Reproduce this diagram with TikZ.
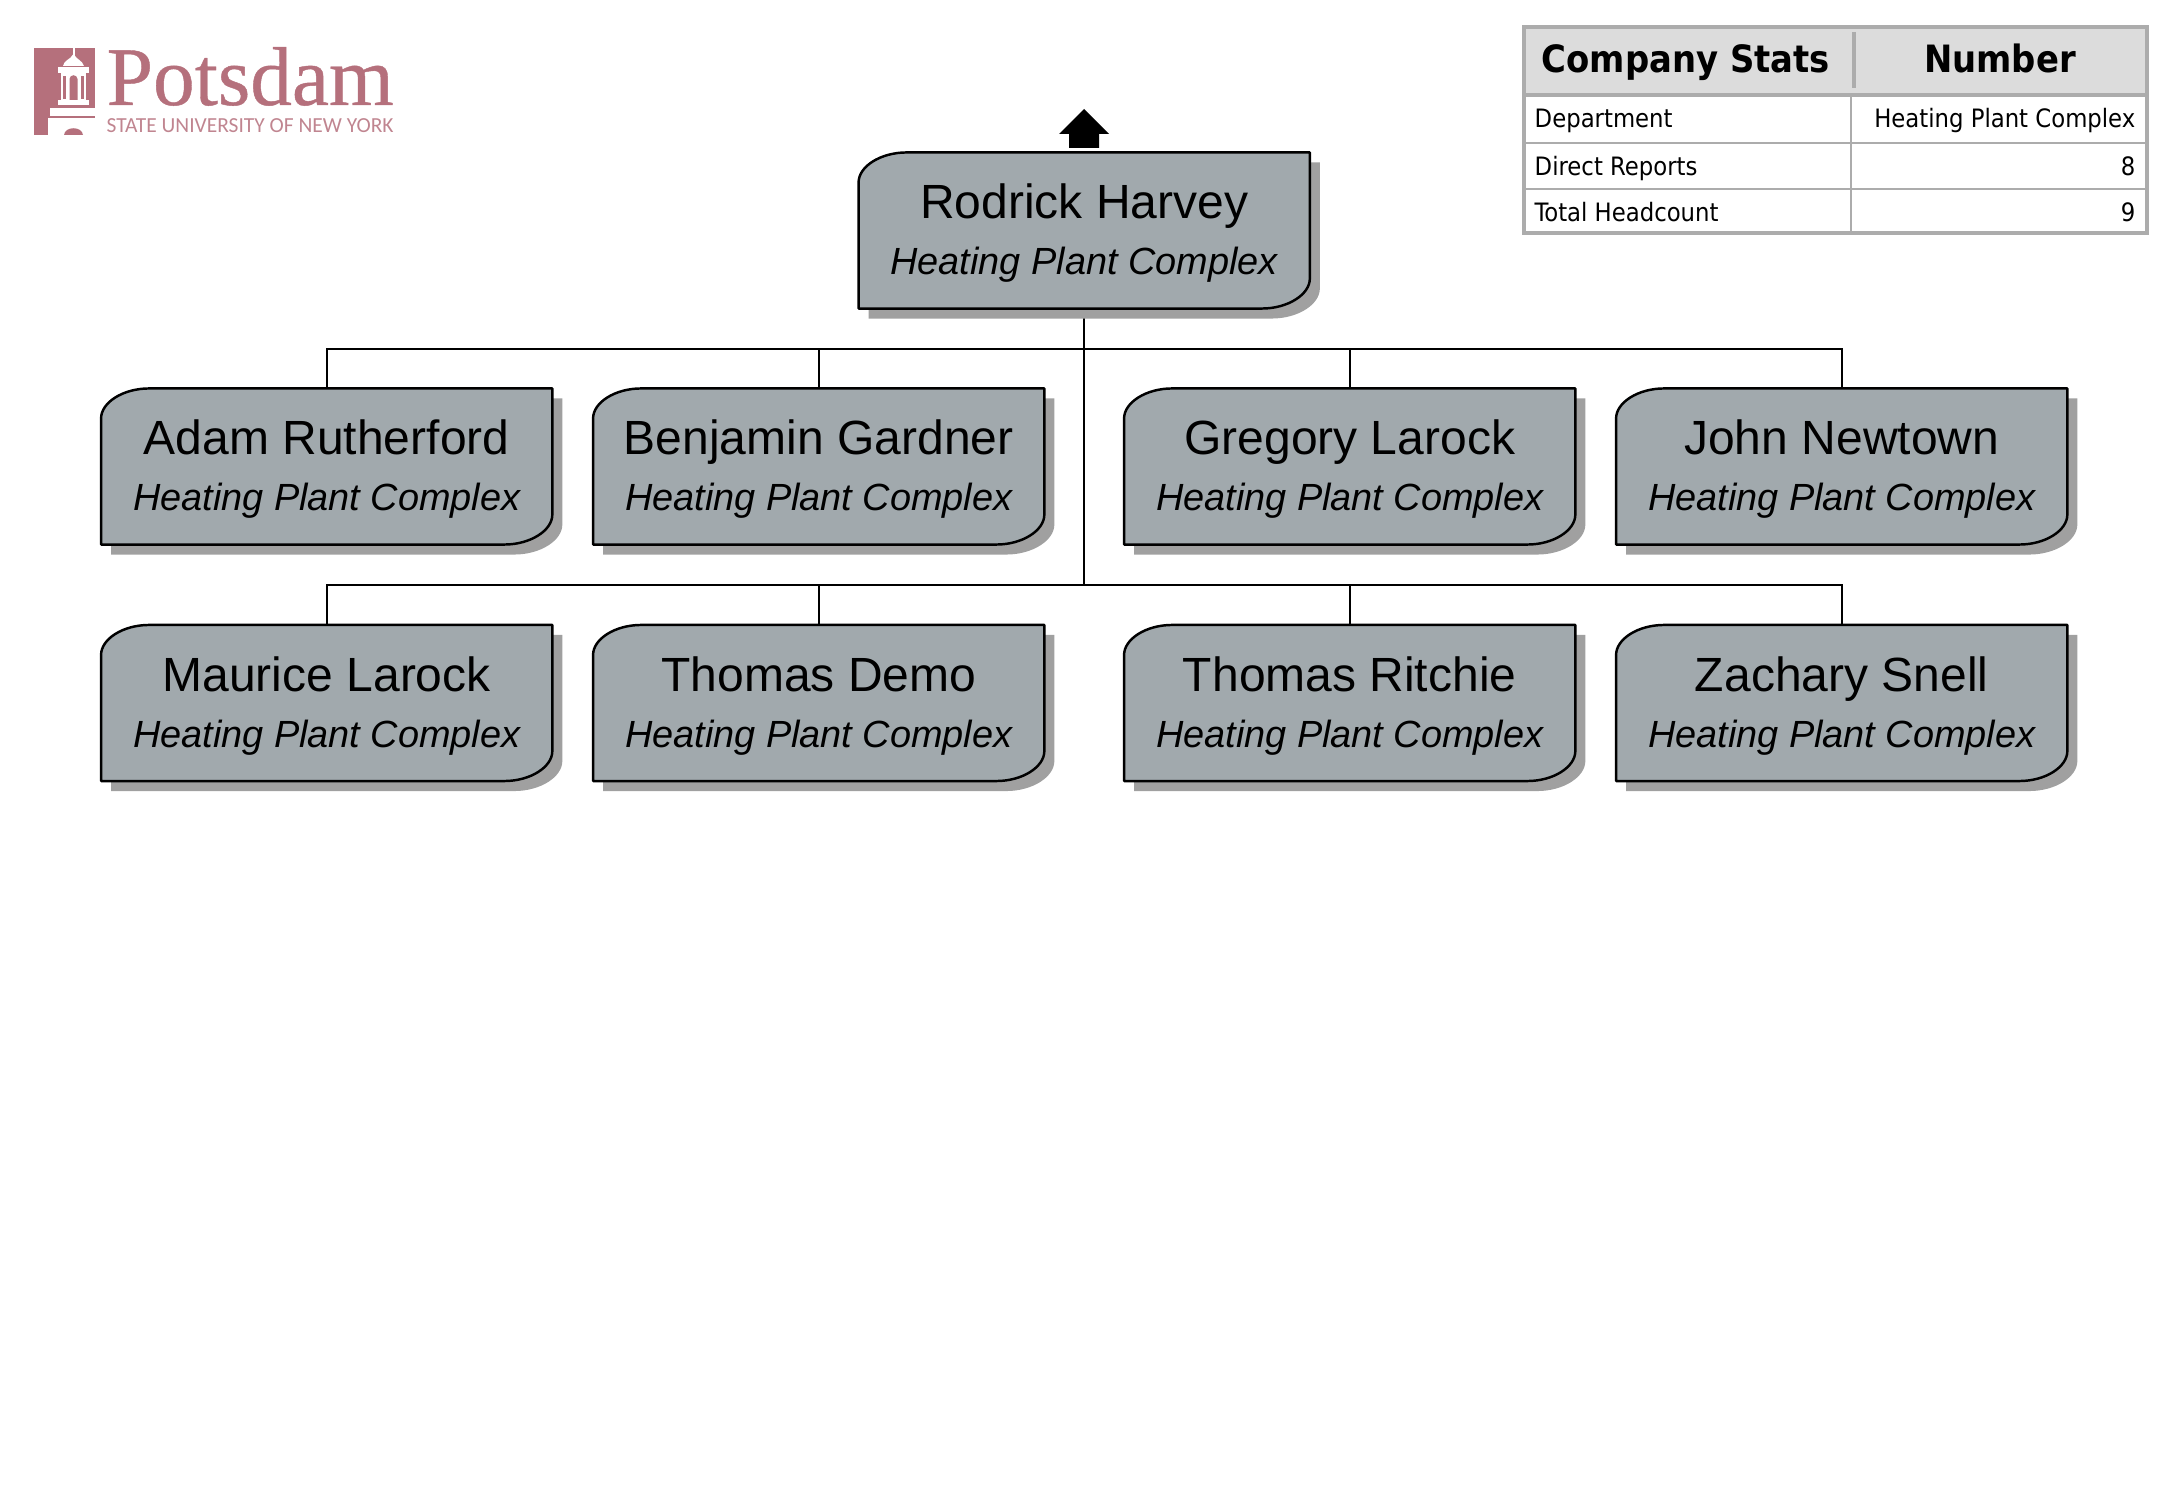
\documentclass[tikz,border=0pt]{standalone}
\usepackage{fontspec}
\setmainfont{Liberation Sans}
\newfontfamily\tabfont{DejaVu Sans Condensed}
\newfontfamily\logoserif[FakeBold=0.5]{Liberation Serif}
\newfontfamily\logosans{Carlito}
\usetikzlibrary{positioning,calc,backgrounds}
\definecolor{orgFill}{RGB}{161,169,173}
\definecolor{orgShadow}{RGB}{160,160,160}
\definecolor{tabGrid}{RGB}{172,172,172}
\definecolor{tabHead}{RGB}{220,220,220}
\definecolor{logoRose}{RGB}{181,112,124}
\pgfdeclarelayer{wires}
\pgfsetlayers{wires,background,main}
\tikzset{
    cardtext/.style={inner sep=0pt, outer sep=0pt, align=center,
                     minimum width=4.51cm, minimum height=1.56cm},
    cardpath/.style={insert path={
        ($(#1.north west)+(48,0)$) -- (#1.north east)
        -- ($(#1.south east)+(0,-30)$)
        .. controls +(0,16) and +(26,0) .. ($(#1.south east)+(-48,0)$)
        -- (#1.south west) -- ($(#1.north west)+(0,30)$)
        .. controls +(0,-16) and +(-26,0) .. ($(#1.north west)+(48,0)$) -- cycle}},
    cardline/.style={draw=black, line width=0.7pt, fill=orgFill, line join=round},
    cardshade/.style={fill=orgShadow, transform canvas={xshift=0.1cm, yshift=-0.1cm}},
    wire/.style={draw=black, line width=0.6pt},
    tabline/.style={draw=tabGrid, line width=0.55pt},
    tabedge/.style={draw=tabGrid, line width=0.9pt},
    tabcell/.style={font=\fontsize{7.2}{9}\selectfont\tabfont, inner sep=0pt},
    tabtop/.style={font=\fontsize{10.7}{12}\selectfont\tabfont\bfseries, inner sep=0pt},
    logocut/.style={fill=white}
}
\newcommand{\orgcard}[4]{
  \node[cardtext] (#1) at (#2,#3) {{\fontsize{13.65}{15}\selectfont\rule{0pt}{11.4pt}#4}\\[3.9pt]
    {\fontsize{10.77}{12}\selectfont\itshape Heating Plant Complex}};
  \begin{scope}[on background layer]
    \path[cardshade, cardpath=#1];
    \path[cardline, cardpath=#1];
  \end{scope}
}

\begin{document}
\begin{tikzpicture}[x=0.01cm, y=-0.01cm]
  \useasboundingbox (0,0) rectangle (2167,1504);

  % Logo
  \fill[logoRose] (34,48) rectangle (95,135);
  \fill[logocut] (48,118) rectangle (95,135);
  \fill[logocut] (50,108) rectangle (95,116);
  \fill[logocut] (72.5,48) rectangle (74.5,56);
  \fill[logocut] (63,66) .. controls (64,60) and (70,60) .. (73.5,54) .. controls (77,60) and (82,60) .. (84,66) -- cycle;
  \fill[logocut] (58,67) rectangle (89,73);
  \fill[logocut] (61,73) rectangle (86,103);
  \fill[logocut] (58,100) rectangle (89,105);
  \fill[logoRose] (69.5,100) -- (69.5,79) .. controls (70,74) and (77,74) .. (77.5,79) -- (77.5,100) -- cycle;
  \fill[logoRose] (63,76) rectangle (66,99);
  \fill[logoRose] (81,76) rectangle (84,99);
  \fill[logoRose] (64,135) .. controls (65,126) and (82,126) .. (83,135) -- cycle;
  \node[font=\fontsize{23.7}{26}\selectfont\logoserif, text=logoRose, inner sep=0pt, anchor=base west] (logoword) at (106,105) {Potsdam};
  \node[font=\fontsize{6.1}{7}\selectfont\logosans, text=logoRose!85, inner sep=0pt, anchor=base west] (logosub) at (106,133) {STATE UNIVERSITY OF NEW YORK};

  % Stats table
  \fill[tabHead] (1524,27) rectangle (2147,95);
  \draw[tabedge] (1524,27) rectangle (2147,233);
  \draw[tabedge] (1524,95) -- (2147,95);
  \draw[tabline] (1524,143) -- (2147,143);
  \draw[tabline] (1524,189) -- (2147,189);
  \draw[tabline] (1851,95) -- (1851,233);
  \draw[tabedge] (1854,32) -- (1854,88);
  \node[tabtop, anchor=base west] (stathead) at (1541,73) {Company Stats};
  \node[tabtop, anchor=base] (numhead) at (2000,73) {Number};
  \node[tabcell, anchor=base west] (deptcell) at (1534,127.5) {Department};
  \node[tabcell, anchor=base east] (deptval) at (2136,127.5) {Heating Plant Complex};
  \node[tabcell, anchor=base west] (reptcell) at (1534,175.5) {Direct Reports};
  \node[tabcell, anchor=base east] (reptval) at (2136,175.5) {8};
  \node[tabcell, anchor=base west] (headcell) at (1534,221.5) {Total Headcount};
  \node[tabcell, anchor=base east] (headval) at (2136,221.5) {9};

  % Top card with arrow
  \orgcard{rodrick}{1084.2}{230.5}{Rodrick Harvey}
  \fill (1084,109) -- (1109,134) -- (1099,134) -- (1099,148) -- (1069,148) -- (1069,134) -- (1059,134) -- cycle;

  % First row
  \orgcard{adam}{326.7}{466.5}{Adam Rutherford}
  \orgcard{benjamin}{818.7}{466.5}{Benjamin Gardner}
  \orgcard{gregory}{1349.7}{466.5}{Gregory Larock}
  \orgcard{john}{1841.7}{466.5}{John Newtown}

  % Second row
  \orgcard{maurice}{326.7}{703}{Maurice Larock}
  \orgcard{thomasd}{818.7}{703}{Thomas Demo}
  \orgcard{thomasr}{1349.7}{703}{Thomas Ritchie}
  \orgcard{zachary}{1841.7}{703}{Zachary Snell}

  % Connectors
  \coordinate (busa) at (1084.2,349);
  \coordinate (busb) at (1084.2,585);
  \begin{pgfonlayer}{wires}
    \draw[wire] (rodrick.south) -- (busb);
    \draw[wire] (busa) -| (adam.north);
    \draw[wire] (busa) -| (benjamin.north);
    \draw[wire] (busa) -| (gregory.north);
    \draw[wire] (busa) -| (john.north);
    \draw[wire] (busb) -| (maurice.north);
    \draw[wire] (busb) -| (thomasd.north);
    \draw[wire] (busb) -| (thomasr.north);
    \draw[wire] (busb) -| (zachary.north);
  \end{pgfonlayer}
\end{tikzpicture}
\end{document}
